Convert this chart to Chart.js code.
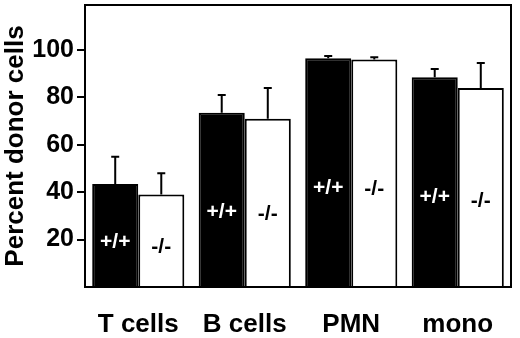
<!DOCTYPE html>
<html>
<head>
<meta charset="utf-8">
<script src="https://cdn.jsdelivr.net/npm/chart.js@4"></script>
<style>
  html, body { margin: 0; padding: 0; background: #fff; }
</style>
</head>
<body>
<canvas id="chart" width="520" height="338"></canvas>
<script>
// percent donor cells
const categories = ["T cells", "B cells", "PMN", "mono"];
const seriesLabels = ["+/+", "-/-"];
const wtValues = [43.5, 73.5, 96.5, 88.5];
const wtErrors = [11.5, 7.5, 1, 3.5];
const koValues = [39, 71, 96, 84];
const koErrors = [9, 13, 1, 10.5];
const yTicks = [20, 40, 60, 80, 100];

const errors = [wtErrors, koErrors];
const FONT = "'Liberation Sans', Arial, Helvetica, sans-serif";

// up-only error bars
const errorBars = {
  id: "errorBars",
  afterDatasetsDraw(chart) {
    const ctx = chart.ctx;
    const y = chart.scales.y;
    ctx.save();
    ctx.strokeStyle = "#000";
    ctx.lineWidth = 2;
    chart.data.datasets.forEach((ds, i) => {
      chart.getDatasetMeta(i).data.forEach((bar, j) => {
        const top = y.getPixelForValue(ds.data[j] + errors[i][j]);
        ctx.beginPath();
        ctx.moveTo(bar.x, bar.y);
        ctx.lineTo(bar.x, top);
        ctx.moveTo(bar.x - 4, top);
        ctx.lineTo(bar.x + 4, top);
        ctx.stroke();
      });
    });
    ctx.restore();
  }
};

// genotype text inside each bar
const barText = {
  id: "barText",
  afterDatasetsDraw(chart) {
    const ctx = chart.ctx;
    ctx.save();
    ctx.font = "bold 21px " + FONT;
    ctx.textAlign = "center";
    ctx.textBaseline = "middle";
    chart.data.datasets.forEach((ds, i) => {
      ctx.fillStyle = i === 0 ? "#fff" : "#000";
      chart.getDatasetMeta(i).data.forEach((bar) => {
        const yy = bar.base - 0.43 * (bar.base - bar.y);
        ctx.fillText(seriesLabels[i], bar.x, yy);
      });
    });
    ctx.restore();
  }
};

// box around the plot
const frame = {
  id: "frame",
  afterDraw(chart) {
    const a = chart.chartArea;
    const ctx = chart.ctx;
    ctx.save();
    ctx.strokeStyle = "#000";
    ctx.lineWidth = 2;
    ctx.strokeRect(a.left, a.top, a.right - a.left, a.bottom - a.top);
    ctx.restore();
  }
};

new Chart(document.getElementById("chart"), {
  type: "bar",
  data: {
    labels: categories,
    datasets: [
      {
        label: seriesLabels[0],
        data: wtValues,
        backgroundColor: "#000",
        borderColor: "#000",
        borderWidth: 2,
      },
      {
        label: seriesLabels[1],
        data: koValues,
        backgroundColor: "#fff",
        borderColor: "#000",
        borderWidth: 2,
      },
    ],
  },
  options: {
    responsive: false,
    animation: false,
    layout: { padding: { top: 5, right: 9, left: 0, bottom: 0 } },
    datasets: {
      bar: { categoryPercentage: 0.865, barPercentage: 1.0 },
    },
    scales: {
      x: {
        grid: { display: false },
        border: { display: false },
        ticks: {
          color: "#000",
          padding: 14,
          font: { family: FONT, size: 26, weight: "bold" },
        },
        afterFit(scale) {
          scale.height = 51;
          scale.paddingLeft = 0;
          scale.paddingRight = 0;
        },
      },
      y: {
        min: 0,
        max: 119,
        afterBuildTicks(scale) {
          scale.ticks = yTicks.map((v) => ({ value: v }));
        },
        grid: {
          drawOnChartArea: false,
          drawTicks: true,
          tickLength: 8,
          color: "#000",
          lineWidth: 2,
        },
        border: { display: false },
        ticks: {
          color: "#000",
          padding: 3,
          font: { family: FONT, size: 25, weight: "bold" },
        },
        title: {
          display: true,
          text: "Percent donor cells",
          color: "#000",
          padding: 0,
          font: { family: FONT, size: 26, weight: "bold" },
        },
        afterFit(scale) {
          scale.width = 85;
          scale.paddingTop = 0;
          scale.paddingBottom = 0;
        },
      },
    },
    plugins: {
      legend: { display: false },
      tooltip: { enabled: false },
    },
  },
  plugins: [errorBars, barText, frame],
});
</script>
</body>
</html>
